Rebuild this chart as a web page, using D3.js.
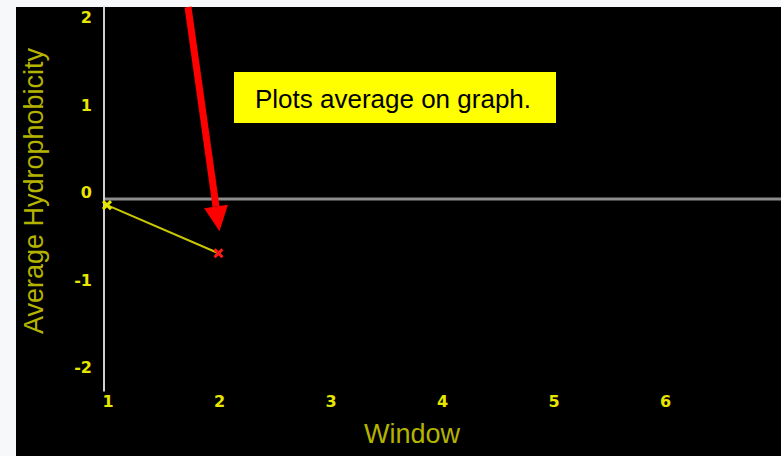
<!DOCTYPE html>
<html>
<head>
<meta charset="utf-8">
<script src="https://cdn.jsdelivr.net/npm/d3@7"></script>
<style>
  body { margin: 0; background: #f7f8fa; }
  svg { display: block; }
</style>
</head>
<body>
<script>
const width = 781;
const height = 456;

// data
const windows = [1, 2];
const averages = [-0.07, -0.62];
const xTicks = [1, 2, 3, 4, 5, 6];
const yTicks = [2, 1, 0, -1, -2];
const note = "Plots average on graph.";

const x = d3.scaleLinear().domain([1, 7]).range([107, 776]);
const y = d3.scaleLinear().domain([-2, 2]).range([374, 24]);

const svg = d3.select("body").append("svg")
  .attr("width", width)
  .attr("height", height)
  .attr("xmlns", "http://www.w3.org/2000/svg");

svg.append("rect")
  .attr("x", 16).attr("y", 7)
  .attr("width", width - 16).attr("height", height - 7)
  .attr("fill", "#000");

// zero line and y axis
svg.append("line")
  .attr("x1", x(1) - 3).attr("x2", width)
  .attr("y1", y(0)).attr("y2", y(0))
  .attr("stroke", "#8c8c8c").attr("stroke-width", 3);

svg.append("line")
  .attr("x1", x(1) - 3).attr("x2", x(1) - 3)
  .attr("y1", y(2.2)).attr("y2", y(-2.2))
  .attr("stroke", "#d0d0d0").attr("stroke-width", 2);

// tick labels
svg.selectAll(".ytick")
  .data(yTicks)
  .enter()
  .append("text")
  .attr("class", "ytick")
  .attr("x", 92)
  .attr("y", (d) => y(d) - 1)
  .attr("text-anchor", "end")
  .attr("font-family", "DejaVu Sans")
  .attr("font-weight", "bold")
  .attr("font-size", "16px")
  .attr("fill", "#e6e600")
  .text((d) => d < 0 ? "-" + Math.abs(d) : d);

svg.selectAll(".xtick")
  .data(xTicks)
  .enter()
  .append("text")
  .attr("class", "xtick")
  .attr("x", (d) => x(d) + 1)
  .attr("y", 407)
  .attr("text-anchor", "middle")
  .attr("font-family", "DejaVu Sans")
  .attr("font-weight", "bold")
  .attr("font-size", "16px")
  .attr("fill", "#e6e600")
  .text((d) => d);

// axis titles
svg.append("text")
  .attr("transform", "translate(43,191) rotate(-90)")
  .attr("text-anchor", "middle")
  .attr("font-family", "Liberation Sans, Arial, sans-serif")
  .attr("font-size", "27px")
  .attr("fill", "#b4b400")
  .text("Average Hydrophobicity");

svg.append("text")
  .attr("x", 412).attr("y", 443)
  .attr("text-anchor", "middle")
  .attr("font-family", "Liberation Sans, Arial, sans-serif")
  .attr("font-size", "27px")
  .attr("fill", "#b4b400")
  .text("Window");

// series line
const pts = windows.map((w, i) => ({ x: x(w), y: y(averages[i]) }));
svg.append("path")
  .attr("d", d3.line().x((d) => d.x).y((d) => d.y)(pts))
  .attr("stroke", "#c8c800")
  .attr("stroke-width", 2)
  .attr("fill", "none");

// x markers, last one red
const s = 4;
svg.selectAll(".mark")
  .data(pts)
  .enter()
  .append("path")
  .attr("class", "mark")
  .attr("d", (d) => `M${d.x - s},${d.y - s}L${d.x + s},${d.y + s}M${d.x - s},${d.y + s}L${d.x + s},${d.y - s}`)
  .attr("stroke", (d, i) => i === pts.length - 1 ? "#ff1a1a" : "#e6e600")
  .attr("stroke-width", 3)
  .attr("fill", "none");

// annotation box
svg.append("rect")
  .attr("x", 234).attr("y", 72)
  .attr("width", 322).attr("height", 51)
  .attr("fill", "#ffff00");

svg.append("text")
  .attr("x", 393).attr("y", 108)
  .attr("text-anchor", "middle")
  .attr("font-family", "Liberation Sans, Arial, sans-serif")
  .attr("font-size", "26px")
  .attr("fill", "#000")
  .text(note);

// red arrow pointing at the last average
const last = pts[pts.length - 1];
const tip = { x: last.x + 1, y: last.y - 22 };
const start = { x: 188, y: 7 };
const ang = Math.atan2(tip.y - start.y, tip.x - start.x);
const headLen = 25, headW = 12;
const bx = tip.x - headLen * Math.cos(ang), by = tip.y - headLen * Math.sin(ang);
svg.append("line")
  .attr("x1", start.x).attr("y1", start.y)
  .attr("x2", bx).attr("y2", by)
  .attr("stroke", "#ff0000").attr("stroke-width", 7);
svg.append("path")
  .attr("d", `M${tip.x},${tip.y}L${bx + headW * Math.sin(ang)},${by - headW * Math.cos(ang)}L${bx - headW * Math.sin(ang)},${by + headW * Math.cos(ang)}Z`)
  .attr("fill", "#ff0000");
</script>
</body>
</html>
